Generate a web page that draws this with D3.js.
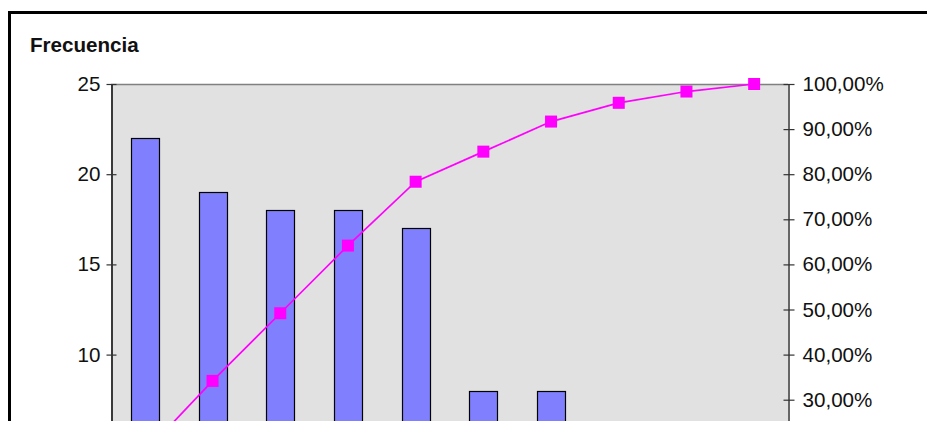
<!DOCTYPE html>
<html>
<head>
<meta charset="utf-8">
<script src="https://cdn.jsdelivr.net/npm/d3@7"></script>
<style>
  html, body { margin: 0; padding: 0; background: #fff; overflow: hidden; }
  svg { display: block; font-family: Arial, "Liberation Sans", sans-serif; }
</style>
</head>
<body>
<svg id="chart" width="927" height="421"></svg>
<script>
// Data
const categories = ["1", "2", "3", "4", "5", "6", "7", "8", "9", "10"];
const frequencies = [22, 19, 18, 18, 17, 8, 8, 5, 3, 2];
const cumulativePct = [0.1833, 0.3417, 0.4917, 0.6417, 0.7833, 0.85, 0.9167, 0.9583, 0.9833, 1.0];
const leftTicks = [0, 5, 10, 15, 20, 25];
const rightTicks = [0, 0.1, 0.2, 0.3, 0.4, 0.5, 0.6, 0.7, 0.8, 0.9, 1.0];
const yTitle = "Frecuencia";

const svg = d3.select("#chart");
const plot = { left: 111, right: 788, top: 84, bottom: 535 };
const fs = 20.6;

// outer chart border
svg.append("rect")
  .attr("x", 9.5).attr("y", 12.5)
  .attr("width", 940).attr("height", 700)
  .attr("fill", "#fff").attr("stroke", "#000").attr("stroke-width", 3);

// plot area background
svg.append("rect")
  .attr("x", plot.left).attr("y", plot.top)
  .attr("width", plot.right - plot.left).attr("height", plot.bottom - plot.top)
  .attr("fill", "#e1e1e1");

const x = d3.scaleBand().domain(categories).range([plot.left, plot.right]).padding(0);
const yL = d3.scaleLinear().domain([0, 25]).range([plot.bottom, plot.top]);
const yR = d3.scaleLinear().domain([0, 1]).range([plot.bottom, plot.top]);

// gridline at top (max)
svg.append("line")
  .attr("x1", plot.left).attr("x2", plot.right)
  .attr("y1", yL(25) + 0.5).attr("y2", yL(25) + 0.5)
  .attr("stroke", "#808080").attr("stroke-width", 1.5);

// bars
const barW = 28;
svg.append("g").selectAll("rect").data(frequencies).join("rect")
  .attr("x", (d, i) => Math.round(x(categories[i]) + x.bandwidth() / 2 - barW / 2) + 0.5)
  .attr("y", d => Math.round(yL(d)) + 0.5)
  .attr("width", barW)
  .attr("height", d => yL(0) - yL(d))
  .attr("fill", "#8080ff")
  .attr("stroke", "#000").attr("stroke-width", 1.2);

// cumulative line
const line = d3.line()
  .x((d, i) => x(categories[i]) + x.bandwidth() / 2)
  .y(d => yR(d));
svg.append("path").datum(cumulativePct)
  .attr("d", line).attr("fill", "none")
  .attr("stroke", "#ff00ff").attr("stroke-width", 1.7);
const mk = 12;
svg.append("g").selectAll("rect").data(cumulativePct).join("rect")
  .attr("x", (d, i) => x(categories[i]) + x.bandwidth() / 2 - mk / 2)
  .attr("y", d => yR(d) - mk / 2)
  .attr("width", mk).attr("height", mk)
  .attr("fill", "#ff00ff");

// left axis
const leftAxis = d3.axisLeft(yL).tickValues(leftTicks).tickSizeInner(5).tickSizeOuter(0).tickPadding(6);
const gL = svg.append("g").attr("transform", `translate(${plot.left + 0.5},0)`).call(leftAxis);
gL.select(".domain").attr("stroke", "#000").attr("stroke-width", 1.5);
gL.selectAll(".tick line").attr("x1", -5).attr("x2", 5).attr("stroke", "#333").attr("stroke-width", 1.2);
gL.selectAll(".tick text").attr("font-size", fs).attr("fill", "#111")
  .attr("font-family", "Arial, 'Liberation Sans', sans-serif").attr("x", -11);

// right axis
const locale = d3.formatLocale({ decimal: ",", thousands: ".", grouping: [3], currency: ["", "€"] });
const pctFmt = locale.format(".2%");
const rightAxis = d3.axisRight(yR).tickValues(rightTicks).tickFormat(pctFmt).tickSizeInner(6).tickSizeOuter(0).tickPadding(8);
const gR = svg.append("g").attr("transform", `translate(${plot.right + 0.5},0)`).call(rightAxis);
gR.select(".domain").attr("stroke", "#333").attr("stroke-width", 1.5);
gR.selectAll(".tick line").attr("x1", -5).attr("x2", 6).attr("stroke", "#333").attr("stroke-width", 1.2);
gR.selectAll(".tick text").attr("font-size", fs).attr("fill", "#111")
  .attr("font-family", "Arial, 'Liberation Sans', sans-serif").attr("x", 14);

// bottom axis (below visible area)
const gB = svg.append("g").attr("transform", `translate(0,${plot.bottom})`).call(d3.axisBottom(x).tickSize(0));
gB.selectAll("text").attr("font-size", fs);

// y axis title
svg.append("text")
  .attr("x", 30).attr("y", 52)
  .attr("font-size", 20.6).attr("font-weight", "bold").attr("fill", "#111")
  .text(yTitle);
</script>
</body>
</html>
